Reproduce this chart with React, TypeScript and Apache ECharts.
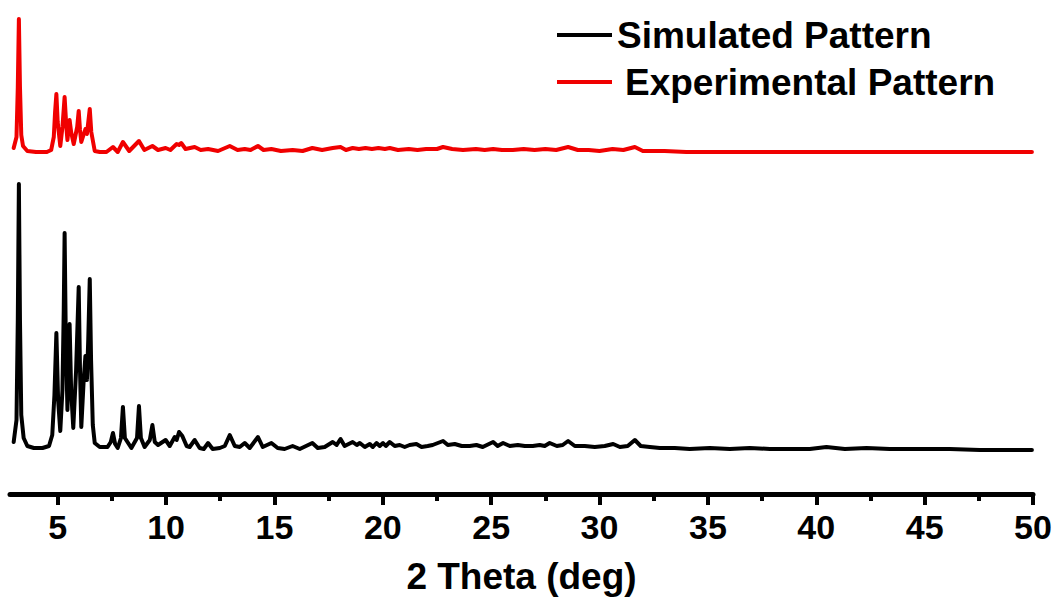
import React, { useEffect, useRef } from "react";
import * as echarts from "echarts";

// 2θ positions (deg) and intensities (a.u., above baseline)
const SIM_TWO_THETA = [
  2.97, 3.1, 3.16, 3.21, 3.26, 3.32, 3.43, 3.6, 3.9, 4.3, 4.6, 4.75, 4.85, 4.94, 5.02, 5.12, 5.22, 5.28, 5.32, 5.37,
  5.45, 5.5, 5.55, 5.62, 5.72, 5.85, 5.97, 6.03, 6.09, 6.2, 6.28, 6.35, 6.41, 6.48, 6.54, 6.62, 6.71, 6.94, 7.3, 7.45,
  7.55, 7.65, 7.77, 7.92, 8.01, 8.1, 8.4, 8.66, 8.75, 8.84, 9.01, 9.25, 9.37, 9.48, 9.63, 9.98, 10.17, 10.4, 10.49, 10.6,
  10.75, 10.95, 11.09, 11.32, 11.55, 11.74, 11.94, 12.15, 12.48, 12.71, 12.94, 13.17, 13.4, 13.63, 13.86, 14.24, 14.46, 14.86, 15.15, 15.47,
  15.84, 16.17, 16.75, 17.0, 17.32, 17.69, 17.87, 18.05, 18.24, 18.61, 18.8, 18.94, 19.17, 19.4, 19.54, 19.71, 19.86, 20.01, 20.14, 20.32,
  20.55, 20.78, 21.01, 21.24, 21.55, 21.79, 22.07, 22.3, 22.54, 22.78, 23.0, 23.32, 23.64, 24.01, 24.32, 24.61, 25.09, 25.3, 25.55, 25.86,
  26.23, 26.55, 26.92, 27.24, 27.47, 27.7, 28.03, 28.3, 28.55, 28.86, 29.32, 29.78, 30.24, 30.63, 30.94, 31.3, 31.63, 31.9, 32.32, 32.78,
  33.47, 34.16, 35.09, 36.01, 36.93, 37.86, 38.78, 39.7, 40.47, 41.32, 42.32, 43.39, 44.78, 46.16, 47.55, 48.93, 49.95,
];
const SIM_INTENSITY = [
  8, 30, 130, 266, 130, 35, 12, 4, 2, 2, 4, 15, 55, 117, 50, 19, 60, 140, 217, 120,
  40, 80, 126, 60, 22, 80, 163, 80, 23, 70, 94, 70, 110, 171, 90, 25, 7, 3, 3, 8,
  17, 6, 2, 12, 43, 12, 2, 12, 44, 12, 3, 10, 25, 8, 5, 10, 4, 13, 10, 18,
  14, 4, 3, 10, 2, 1, 7, 1, 2, 4, 15, 4, 3, 7, 2, 13, 3, 7, 2, 1,
  4, 1, 7, 2, 3, 8, 5, 11, 4, 8, 5, 7, 3, 6, 3, 7, 4, 7, 4, 8,
  4, 5, 3, 5, 6, 3, 4, 5, 7, 9, 5, 6, 4, 4, 5, 3, 8, 4, 7, 4,
  5, 4, 4, 5, 4, 7, 4, 5, 9, 4, 4, 3, 4, 6, 3, 4, 10, 4, 3, 2,
  2, 1, 2, 1, 2, 1, 1, 1, 3, 1, 2, 1, 1, 1, 0, 0, 0,
];

const EXP_TWO_THETA = [
  2.97, 3.1, 3.16, 3.21, 3.26, 3.32, 3.4, 3.6, 4.0, 4.5, 4.7, 4.82, 4.88, 4.94, 5.0, 5.12, 5.22, 5.32, 5.4, 5.45,
  5.55, 5.62, 5.74, 5.9, 5.97, 6.03, 6.09, 6.28, 6.35, 6.48, 6.55, 6.71, 6.94, 7.25, 7.55, 7.77, 8.01, 8.3, 8.75, 9.0,
  9.37, 9.63, 9.98, 10.2, 10.49, 10.6, 10.7, 10.9, 11.32, 11.6, 11.94, 12.4, 12.94, 13.3, 13.63, 13.9, 14.24, 14.5, 14.86, 15.3,
  15.84, 16.3, 16.75, 17.2, 17.69, 18.05, 18.3, 18.61, 18.9, 19.2, 19.5, 19.8, 20.1, 20.32, 20.7, 21.2, 21.6, 22.0, 22.5, 22.78,
  23.2, 23.7, 24.3, 24.7, 25.09, 25.5, 26.0, 26.5, 27.0, 27.5, 28.0, 28.55, 29.0, 29.5, 30.0, 30.6, 31.1, 31.63, 32.0, 33.0,
  34.0, 36.0, 38.0, 40.0, 42.0, 44.0, 46.0, 48.0, 49.95,
];
const EXP_INTENSITY = [
  4, 15, 65, 133, 65, 17, 6, 1, 0, 0, 2, 15, 40, 58, 30, 6, 25, 55, 25, 12,
  32, 20, 8, 25, 41, 22, 10, 23, 18, 43, 20, 1, 0, 0, 5, 0, 10, 1, 11, 2,
  6, 2, 4, 2, 8, 7, 9, 3, 5, 2, 3, 1, 6, 2, 3, 2, 6, 2, 3, 1,
  2, 1, 4, 2, 4, 5, 2, 4, 3, 4, 3, 4, 3, 4, 2, 3, 2, 3, 3, 5,
  3, 2, 3, 2, 3, 2, 2, 3, 2, 3, 2, 5, 2, 2, 1, 3, 2, 5, 1, 1,
  0, 0, 0, 0, 0, 0, 0, 0, 0,
];

// vertical stacking offsets of the two patterns (a.u.)
const SIM_OFFSET = 44;
const EXP_OFFSET = 342;

const MAJOR_TICKS = [5, 10, 15, 20, 25, 30, 35, 40, 45, 50];
const MINOR_TICKS = [7.5, 12.5, 17.5, 22.5, 27.5, 32.5, 37.5, 42.5, 47.5];

const SERIES_NAMES = ["Simulated Pattern", "Experimental Pattern"];
const X_NAME = "2 Theta (deg)";

const FONT = '"Liberation Sans", Arial, Helvetica, sans-serif';

export default function App() {
  const ref = useRef<HTMLDivElement>(null);
  useEffect(() => {
    if (!ref.current) return;
    const chart = echarts.init(ref.current, null, { renderer: "svg" });
    const sim = SIM_TWO_THETA.map((x, i) => [x, SIM_INTENSITY[i] + SIM_OFFSET]);
    const exp = EXP_TWO_THETA.map((x, i) => [x, EXP_INTENSITY[i] + EXP_OFFSET]);
    chart.setOption({
      animation: false,
      backgroundColor: "#fff",
      grid: { left: 10, right: 24, top: 0, bottom: 106, outerBoundsMode: "none", containLabel: false },
      legend: {
        orient: "vertical",
        left: 557,
        top: 15,
        padding: 0,
        itemWidth: 55,
        itemHeight: 4,
        itemGap: 7,
        icon: "rect",
        textStyle: { fontSize: 37, fontWeight: "bold", color: "#000", fontFamily: FONT, lineHeight: 40 },
        data: [
          { name: SERIES_NAMES[0] },
          { name: SERIES_NAMES[1], textStyle: { padding: [0, 0, 0, 8] } },
        ],
      },
      xAxis: [
        {
          type: "value",
          min: 2.8,
          max: 50,
          position: "bottom",
          name: X_NAME,
          nameLocation: "middle",
          nameGap: 64,
          nameTextStyle: { fontSize: 37, fontWeight: "bold", color: "#000", fontFamily: FONT },
          axisLine: { show: true, lineStyle: { color: "#000", width: 5 } },
          axisTick: { show: true, inside: false, length: 11, customValues: MAJOR_TICKS, lineStyle: { color: "#000", width: 4 } },
          axisLabel: { customValues: MAJOR_TICKS, fontSize: 34, fontWeight: "bold", color: "#000", fontFamily: FONT, margin: 16 },
          splitLine: { show: false },
        },
        {
          type: "value",
          min: 2.8,
          max: 50,
          position: "bottom",
          offset: 0,
          axisLine: { show: false },
          axisTick: { show: true, inside: false, length: 7, customValues: MINOR_TICKS, lineStyle: { color: "#000", width: 4 } },
          axisLabel: { show: false },
          splitLine: { show: false },
        },
      ],
      yAxis: { type: "value", min: 0, max: 494, show: false },
      series: [
        {
          name: SERIES_NAMES[0],
          type: "line",
          data: sim,
          showSymbol: false,
          color: "#000",
          lineStyle: { color: "#000", width: 4, join: "round", cap: "round" },
          xAxisIndex: 0,
        },
        {
          name: SERIES_NAMES[1],
          type: "line",
          data: exp,
          showSymbol: false,
          color: "#f00000",
          lineStyle: { color: "#f00000", width: 4, join: "round", cap: "round" },
          xAxisIndex: 0,
        },
      ],
    });
    return () => chart.dispose();
  }, []);
  return <div ref={ref} style={{ position: "absolute", left: 0, top: 0, width: 1057, height: 600 }} />;
}
